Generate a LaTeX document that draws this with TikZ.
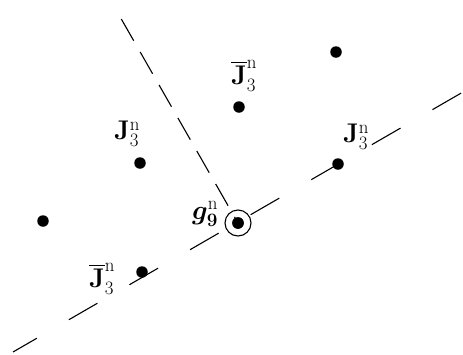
\documentclass[tikz,border=0pt]{standalone}
\usepackage{fix-cm}
\usepackage{bm}
\newcommand{\barJ}{\vbox{\hrule height 1.6pt\kern 3pt\hbox{$\mathbf{J}$}}}
\begin{document}
\begin{tikzpicture}[
  x=1pt, y=-1pt,
  site/.style={circle, fill, inner sep=0pt, minimum size=11.5pt},
  ring/.style={circle, draw, line width=1.1pt, inner sep=0pt, minimum size=26pt},
  lbl/.style={inner sep=0pt, font=\fontsize{27}{31}\selectfont},
  axis/.style={line width=1.1pt, dash pattern=on 33pt off 37pt, dash phase=5.5pt},
  ray/.style={line width=1.1pt, dash pattern=on 25pt off 13pt, dash phase=25.3pt}
]
\useasboundingbox (0,0) rectangle (463,354);
% lattice sites
\node[site] (g0) at (238,223) {};
\node[site] (s1) at (336,52) {};
\node[site] (s2) at (239,107) {};
\node[site] (s3) at (140,163) {};
\node[site] (s4) at (338,164) {};
\node[site] (s5) at (43,221) {};
\node[site] (s6) at (142,272) {};
% dashed lines
\coordinate (ll) at (13,352);
\coordinate (ur) at (463,92);
\coordinate (top) at (115,8);
\draw[axis] (ll) -- (ur);
\draw[ray] (top) -- (g0.center);
\node[ring] (gring) at (g0) {};
\node[site] at (g0) {};
% labels
\node[lbl] (l2) at (244,76) {$\barJ_3^{\mathrm{n}}$};
\node[lbl] (l3) at (127,134) {$\mathbf{J}_3^{\mathrm{n}}$};
\node[lbl] (l4) at (356,137) {$\mathbf{J}_3^{\mathrm{n}}$};
\node[lbl] (l0) at (205,214) {$\bm{g}_{\mathbf{9}}^{\mathrm{n}}$};
\node[lbl] (l6) at (102,279) {$\barJ_3^{\mathrm{n}}$};
\end{tikzpicture}
\end{document}
